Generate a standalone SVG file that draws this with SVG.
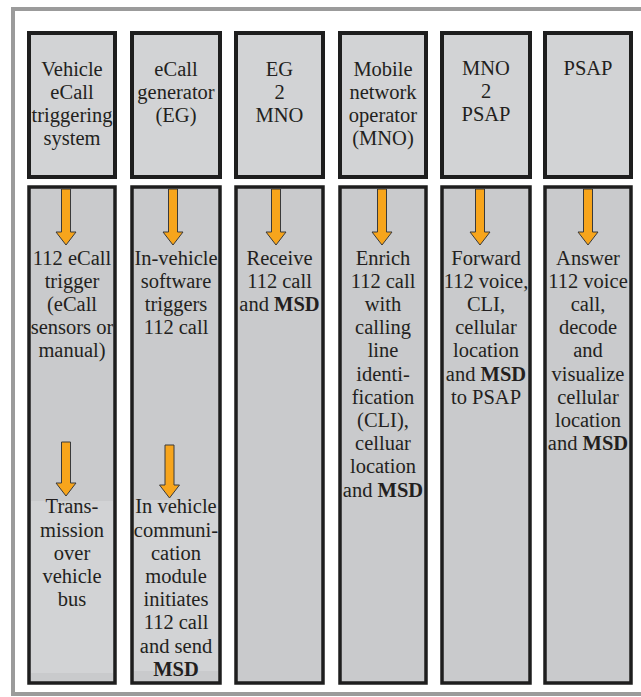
<svg xmlns="http://www.w3.org/2000/svg" width="641" height="697" viewBox="0 0 641 697">
<style>
.frame{fill:none;stroke:#9b9b9b;stroke-width:4}
.hd{fill:#d2d3d5;stroke:#1e1e1e;stroke-width:4}
.lo{fill:#c9cacc;stroke:#1e1e1e;stroke-width:3.5}
.pn{fill:#d2d3d5}
.ar{fill:#f7a51c;stroke:#3a3a3a;stroke-width:1}
.b{font-weight:bold}
</style>
<rect x="0" y="0" width="641" height="697" fill="#ffffff"/>
<rect class="frame" x="13" y="9" width="640" height="685"/>

<g id="col1" font-family="Times New Roman, Liberation Serif, serif" font-size="20.5" text-anchor="middle" fill="#231f20">
<rect class="hd" x="29" y="33" width="86" height="144"/>
<text x="72" y="75.5"><tspan x="72">Vehicle</tspan><tspan x="72" dy="23">eCall</tspan><tspan x="72" dy="23">triggering</tspan><tspan x="72" dy="23">system</tspan></text>
<rect class="lo" x="29" y="187" width="86" height="496"/>
<rect class="pn" x="31" y="501" width="82" height="172"/>
<text x="72" y="264.5"><tspan x="72">112 eCall</tspan><tspan x="72" dy="23.2">trigger</tspan><tspan x="72" dy="23.2">(eCall</tspan><tspan x="72" dy="23.2">sensors or</tspan><tspan x="72" dy="23.2">manual)</tspan></text>
<text x="72" y="513.3"><tspan x="72">Trans-</tspan><tspan x="72" dy="23.2">mission</tspan><tspan x="72" dy="23.2">over</tspan><tspan x="72" dy="23.2">vehicle</tspan><tspan x="72" dy="23.2">bus</tspan></text>
</g>

<g id="col2" font-family="Times New Roman, Liberation Serif, serif" font-size="20.5" text-anchor="middle" fill="#231f20">
<rect class="hd" x="132" y="33" width="88" height="144"/>
<text x="176" y="75.5"><tspan x="176">eCall</tspan><tspan x="176" dy="23">generator</tspan><tspan x="176" dy="23">(EG)</tspan></text>
<rect class="lo" x="132" y="187" width="88" height="496"/>
<rect class="pn" x="134" y="500" width="84" height="171"/>
<text x="176" y="264.5"><tspan x="176">In-vehicle</tspan><tspan x="176" dy="23.2">software</tspan><tspan x="176" dy="23.2">triggers</tspan><tspan x="176" dy="23.2">112 call</tspan></text>
<text x="176" y="513.3"><tspan x="176">In vehicle</tspan><tspan x="176" dy="23.2">communi-</tspan><tspan x="176" dy="23.2">cation</tspan><tspan x="176" dy="23.2">module</tspan><tspan x="176" dy="23.2">initiates</tspan><tspan x="176" dy="23.2">112 call</tspan><tspan x="176" dy="23.2">and send</tspan><tspan x="176" dy="23.2" class="b">MSD</tspan></text>
</g>

<g id="col3" font-family="Times New Roman, Liberation Serif, serif" font-size="20.5" text-anchor="middle" fill="#231f20">
<rect class="hd" x="236" y="33" width="87" height="144"/>
<text x="279.5" y="75.5"><tspan x="279.5">EG</tspan><tspan x="279.5" dy="23">2</tspan><tspan x="279.5" dy="23">MNO</tspan></text>
<rect class="lo" x="236" y="187" width="87" height="496"/>
<text x="279.5" y="264.5"><tspan x="279.5">Receive</tspan><tspan x="279.5" dy="23.2">112 call</tspan><tspan x="279.5" dy="23.2">and <tspan class="b">MSD</tspan></tspan></text>
</g>

<g id="col4" font-family="Times New Roman, Liberation Serif, serif" font-size="20.5" text-anchor="middle" fill="#231f20">
<rect class="hd" x="340" y="33" width="86" height="144"/>
<text x="383" y="75.5"><tspan x="383">Mobile</tspan><tspan x="383" dy="23">network</tspan><tspan x="383" dy="23">operator</tspan><tspan x="383" dy="23">(MNO)</tspan></text>
<rect class="lo" x="340" y="187" width="86" height="496"/>
<text x="383" y="264.5"><tspan x="383">Enrich</tspan><tspan x="383" dy="23.2">112 call</tspan><tspan x="383" dy="23.2">with</tspan><tspan x="383" dy="23.2">calling</tspan><tspan x="383" dy="23.2">line</tspan><tspan x="383" dy="23.2">identi-</tspan><tspan x="383" dy="23.2">fication</tspan><tspan x="383" dy="23.2">(CLI),</tspan><tspan x="383" dy="23.2">celluar</tspan><tspan x="383" dy="23.2">location</tspan><tspan x="383" dy="23.2">and <tspan class="b">MSD</tspan></tspan></text>
</g>

<g id="col5" font-family="Times New Roman, Liberation Serif, serif" font-size="20.5" text-anchor="middle" fill="#231f20">
<rect class="hd" x="442" y="33" width="88" height="144"/>
<text x="486" y="75"><tspan x="486">MNO</tspan><tspan x="486" dy="23">2</tspan><tspan x="486" dy="23">PSAP</tspan></text>
<rect class="lo" x="442" y="187" width="88" height="496"/>
<text x="486" y="264.5"><tspan x="486">Forward</tspan><tspan x="486" dy="23.2">112 voice,</tspan><tspan x="486" dy="23.2">CLI,</tspan><tspan x="486" dy="23.2">cellular</tspan><tspan x="486" dy="23.2">location</tspan><tspan x="486" dy="23.2">and <tspan class="b">MSD</tspan></tspan><tspan x="486" dy="23.2">to PSAP</tspan></text>
</g>

<g id="col6" font-family="Times New Roman, Liberation Serif, serif" font-size="20.5" text-anchor="middle" fill="#231f20">
<rect class="hd" x="545" y="33" width="86" height="144"/>
<text x="588" y="75"><tspan x="588">PSAP</tspan></text>
<rect class="lo" x="545" y="187" width="86" height="496"/>
<text x="588" y="264.5"><tspan x="588">Answer</tspan><tspan x="588" dy="23.2">112 voice</tspan><tspan x="588" dy="23.2">call,</tspan><tspan x="588" dy="23.2">decode</tspan><tspan x="588" dy="23.2">and</tspan><tspan x="588" dy="23.2">visualize</tspan><tspan x="588" dy="23.2">cellular</tspan><tspan x="588" dy="23.2">location</tspan><tspan x="588" dy="23.2">and <tspan class="b">MSD</tspan></tspan></text>
</g>

<g id="connectors">
<path class="ar" d="M61.5,189 H70.5 V232 H76 L66,245 L56,232 H61.5 Z"/>
<path class="ar" d="M168.5,189 H177.5 V232 H183 L173,245 L163,232 H168.5 Z"/>
<path class="ar" d="M271.5,189 H280.5 V232 H286 L276,245 L266,232 H271.5 Z"/>
<path class="ar" d="M377.5,189 H386.5 V232 H392 L382,245 L372,232 H377.5 Z"/>
<path class="ar" d="M475.5,189 H484.5 V232 H490 L480,245 L470,232 H475.5 Z"/>
<path class="ar" d="M583.5,189 H592.5 V232 H598 L588,245 L578,232 H583.5 Z"/>
<path class="ar" d="M61.5,442 H70.5 V483 H76 L66,496 L56,483 H61.5 Z"/>
<path class="ar" d="M165,445 H174 V485 H179.5 L169.5,498 L159.5,485 H165 Z"/>
</g>
</svg>
